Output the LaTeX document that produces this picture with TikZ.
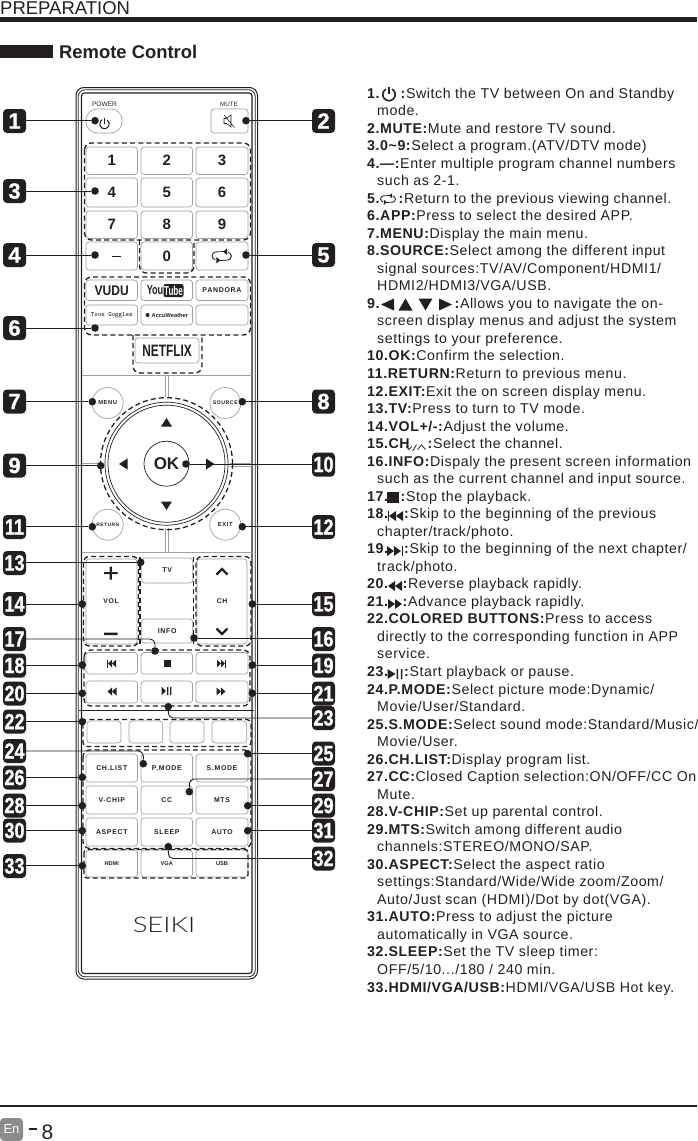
\documentclass[tikz,border=0pt]{standalone}
\usepackage{fontspec}
\setmainfont{Liberation Sans}
\newfontfamily\btnfont[LetterSpace=10]{Liberation Sans}
\newfontfamily\descfont[LetterSpace=4]{Liberation Sans}
\newfontfamily\bdgfont[FakeBold=1.1,UprightFont=* Bold]{Liberation Sans}
\newfontfamily\logofont{Lato Light}
\definecolor{ink}{HTML}{231F20}
\definecolor{btnline}{HTML}{A0A0A0}
\tikzset{
 btnbox/.style={draw=btnline,line width=.7pt,rounded corners=3pt,inner sep=0pt,text=ink},
 roundbtn/.style={draw=btnline,line width=.7pt,circle,inner sep=0pt,minimum size=31pt,text=ink},
 dashgrp/.style={draw=ink,line width=1.3pt,dash pattern=on 5pt off 3.2pt},
 lead/.style={draw=ink,line width=.9pt,rounded corners=5pt},
 dotn/.style={circle,fill=ink,inner sep=0pt,minimum size=7.6pt},
 badge/.style={fill=ink,rounded corners=4pt,inner sep=0pt,minimum height=24pt,minimum width=23pt,text=white,font=\bdgfont\fontsize{22}{22}\selectfont},
 tline/.style={anchor=base west,inner sep=0pt,text=ink,font=\descfont\fontsize{14.2}{16}\selectfont},
 divider/.style={draw=btnline,line width=1pt}
}
\newcommand\btn[6]{\node[btnbox,minimum width={#4-#2},minimum height={#5-#3}] (#1) at ({(#2+#4)/2},{(#3+#5)/2}) {#6};}
\newcommand\bdg[3]{\node[badge] (b#1) at (#2,#3) {#1};}
\newcommand\bdgw[3]{\node[badge] (b#1) at (#2,#3) {\scalebox{0.82}[1]{#1}};}
\newcommand\dt[3]{\node[dotn] (d#1) at (#2,#3) {};}
\newcommand\tl[3]{\node[tline] (t#1x#2) at (#2,{98+17.53*#1}) {#3};}
\newcommand\dg[1]{\bfseries\fontsize{15}{15}\selectfont #1}
\newcommand\fk[1]{\btnfont\bfseries\fontsize{6.9}{8}\selectfont #1}
\newcommand\triL[4]{\fill[ink] (#1,#2) -- ({#1+#3},{#2-#4/2}) -- ({#1+#3},{#2+#4/2}) -- cycle;}
\newcommand\triR[4]{\fill[ink] (#1,{#2-#4/2}) -- ({#1+#3},#2) -- (#1,{#2+#4/2}) -- cycle;}
\newcommand\triU[4]{\fill[ink] (#1,#2) -- ({#1+#3/2},{#2+#4}) -- ({#1-#3/2},{#2+#4}) -- cycle;}
\newcommand\triD[4]{\fill[ink] (#1,#2) -- ({#1+#3/2},{#2-#4}) -- ({#1-#3/2},{#2-#4}) -- cycle;}
\newcommand\powic[4]{\draw[ink,line width=#4] ({#1+#3*cos(60)},{#2-#3*sin(60)}) arc (-60:240:#3); \draw[ink,line width=#4] (#1,{#2-#3*1.25}) -- (#1,{#2-#3*.1});}
\newcommand\loopic[3]{\begin{scope}[shift={(#1,#2)},scale=#3]
 \draw[ink,line width=.9pt] (-1,-4.2) -- (-4,-4.2) .. controls (-8,-4.2) and (-10,-2) .. (-9.5,0) .. controls (-9.3,1.5) and (-8,3) .. (-6.5,3.8);
 \draw[ink,line width=.9pt] (1,4.2) -- (4,4.2) .. controls (8,4.2) and (10,2) .. (9.5,0) .. controls (9.3,-1.5) and (8,-3) .. (6.5,-3.8);
 \draw[ink,line width=.9pt] (-1,-4.2) -- (5,-4.2);
 \draw[ink,line width=.9pt] (1,4.2) -- (-5,4.2);
 \triL{1.5}{-4.2}{3.8}{6.5} \triL{-1.5}{4.2}{-3.8}{6.5}
 \end{scope}}
\begin{document}
\begin{tikzpicture}[x=1pt,y=-1pt]
\useasboundingbox (0,0) rectangle (697,1141);
% header
\node[anchor=base west,inner sep=0pt,text=ink,font=\fontsize{18.5}{20}\selectfont] (head) at (0,14) {PREPARATION};
\fill[ink] (0,17) rectangle (697,22);
\fill[ink] (0,45) rectangle (53,58);
\node[anchor=base west,inner sep=0pt,text=ink,font=\bfseries\fontsize{18.4}{20}\selectfont] (sub) at (59,58) {Remote Control};
% footer
\fill[ink] (0,1105) rectangle (697,1106.6);
\node[fill=black!45,rounded corners=4pt,inner sep=0pt,minimum width=23pt,minimum height=23pt,text=white,font=\fontsize{13}{13}\selectfont] (en) at (11.5,1129.5) {En};
\fill[ink] (29,1128.2) rectangle (37,1130);
\node[anchor=base west,inner sep=0pt,text=ink,font=\fontsize{21}{21}\selectfont] (pg) at (41.5,1139) {8};
% remote body
\draw[ink,line width=1pt,rounded corners=8pt] (76,87.5) rectangle (257.5,979);
\draw[ink,line width=.8pt,rounded corners=7pt] (78.2,89.7) rectangle (255.3,976.8);
\draw[ink,line width=1.1pt,rounded corners=3pt] (81.5,93) rectangle (252,973.5);
% dividers
\draw[divider] (82,375.5) -- (252,375.5);
\draw[divider] (165,376) -- (165,397) (168,376) -- (168,397);
\draw[divider] (165,528) -- (165,552) (168,528) -- (168,552);
\draw[divider] (82,552) -- (252,552);
\draw[divider] (82,463) -- (103,463);
\draw[divider] (230,463) -- (252,463) (230,466) -- (252,466);
\draw[ink,line width=1pt] (79,710.5) -- (254,710.5);
% top buttons
\node[btnbox,rounded corners=11pt,minimum width=36pt,minimum height=24pt] (power) at (104,121) {};
\node[anchor=base,inner sep=0pt,text=ink,font=\fontsize{6.6}{7}\selectfont] (powerl) at (104.5,106.5) {POWER};
\powic{104.5}{124}{4.8}{1pt}
\btn{mute}{211}{109}{248}{133}{}
\node[anchor=base,inner sep=0pt,text=ink,font=\fontsize{6.2}{7}\selectfont] (mutel) at (229,106.5) {MUTE};
\draw[ink,line width=.6pt] (224,118.5) -- (226.5,118.5) -- (231,115) -- (231,127) -- (226.5,123.5) -- (224,123.5) -- cycle (224,115) -- (234.5,127.5);
% digit pad
\btn{k1}{86}{147}{137.5}{174.5}{\dg{1}}
\btn{k2}{141}{147}{192.5}{174.5}{\dg{2}}
\btn{k3}{196}{147}{248}{174.5}{\dg{3}}
\btn{k4}{86}{178}{137.5}{207}{\dg{4}}
\btn{k5}{141}{178}{192.5}{207}{\dg{5}}
\btn{k6}{196}{178}{248}{207}{\dg{6}}
\btn{k7}{86}{211}{137.5}{238.5}{\dg{7}}
\btn{k8}{141}{211}{192.5}{238.5}{\dg{8}}
\btn{k9}{196}{211}{248}{238.5}{\dg{9}}
\btn{kd}{86}{242}{137.5}{270}{}
\fill[ink] (111.5,255.7) rectangle (120.7,256.6);
\btn{k0}{141}{242}{192.5}{270}{\dg{0}}
\btn{kl}{196}{242}{248}{270}{}
\loopic{221.7}{256}{1.02}
% apps
\btn{a1}{86}{280}{137.5}{300.5}{\bfseries\fontsize{14}{14}\selectfont\scalebox{.86}[1]{VUDU}}
\btn{a2}{141}{280}{192.5}{300.5}{}
\node[anchor=east,inner sep=0pt,text=ink,font=\bfseries\fontsize{13}{13}\selectfont] (yt1) at (163.5,290.5) {\scalebox{.7}[1]{You}};
\node[fill=ink,rounded corners=2pt,inner sep=.5pt,text=white,font=\bfseries\fontsize{13}{13}\selectfont,minimum height=13pt,minimum width=20pt] (yt2) at (173.5,290.5) {\scalebox{.62}[1]{Tube}};
\btn{a3}{196}{280}{248}{300.5}{\btnfont\bfseries\fontsize{7}{8}\selectfont PANDORA}
\btn{a4}{86}{305}{137.5}{325}{\ttfamily\bfseries\fontsize{6.6}{7}\selectfont Toon Goggles}
\btn{a5}{141}{305}{192.5}{325}{}
\fill[ink] (147.5,315) circle (2);
\node[anchor=west,inner sep=0pt,text=ink,font=\bfseries\fontsize{5.7}{7}\selectfont] (acc) at (151.5,315) {AccuWeather};
\btn{a6}{196}{305}{248}{325}{}
\btn{nf}{135}{338}{199}{363}{\bfseries\fontsize{16.5}{17}\selectfont\scalebox{.72}[1]{NETFLIX}}
% dpad
\node[draw=ink,line width=.7pt,circle,inner sep=0pt,minimum size=123pt] (ring2) at (166.5,463.7) {};
\node[draw=ink,line width=.7pt,circle,inner sep=0pt,minimum size=117pt] (ring1) at (166.5,463.7) {};
\node[draw=ink,line width=.7pt,circle,inner sep=0pt,minimum size=45pt,text=ink,font=\bfseries\fontsize{17}{17}\selectfont] (ok) at (166.5,463.7) {OK};
\triU{166.5}{418}{11}{8.5}
\triD{166.5}{510}{11}{8.5}
\triL{119}{464}{8.5}{11}
\triR{206}{464}{8.5}{11}
\node[roundbtn] (menu) at (107.7,403) {\btnfont\bfseries\fontsize{5.8}{6}\selectfont MENU};
\node[roundbtn] (source) at (225.3,403) {\btnfont\bfseries\fontsize{5.2}{6}\selectfont SOURCE};
\node[roundbtn] (return) at (107.7,524.7) {\btnfont\bfseries\fontsize{4.9}{6}\selectfont RETURN};
\node[roundbtn] (exit) at (225.3,524.7) {\btnfont\bfseries\fontsize{5.8}{6}\selectfont EXIT};
% vol ch
\btn{vol}{86}{559}{137}{644}{}
\btn{ch}{197}{559}{247}{644}{}
\btn{tv}{141.7}{558}{192.7}{583}{\btnfont\bfseries\fontsize{7}{8}\selectfont TV}
\btn{info}{141.7}{619}{192.7}{643}{\btnfont\bfseries\fontsize{7}{8}\selectfont INFO}
\node[inner sep=0pt,text=ink,font=\btnfont\bfseries\fontsize{6.8}{8}\selectfont] (voll) at (111,601) {VOL};
\node[inner sep=0pt,text=ink,font=\btnfont\bfseries\fontsize{6.8}{8}\selectfont] (chl) at (222,601) {CH};
\fill[ink] (104,572) rectangle (117.5,574.2) (109.7,566.5) rectangle (111.9,579.5) (104,632.5) rectangle (117.5,635);
\draw[ink,line width=2.2pt] (216.5,574.5) -- (222,569) -- (227.5,574.5);
\draw[ink,line width=2.2pt] (216.5,628.5) -- (222,634) -- (227.5,628.5);
% transport
\btn{p1}{86}{652.5}{137.5}{674}{}
\btn{p2}{141}{652.5}{192.5}{674}{}
\btn{p3}{196}{652.5}{248}{674}{}
\btn{p4}{86}{681}{137.5}{703}{}
\btn{p5}{141}{681}{192.5}{703}{}
\btn{p6}{196}{681}{248}{703}{}
\fill[ink] (107,659.5) rectangle (108,667.5); \triL{108}{663.5}{4}{7.5} \triL{112}{663.5}{4}{7.5}
\fill[ink] (163.5,659.5) rectangle (171,667);
\triR{217}{663.5}{4}{7.5} \triR{221}{663.5}{4}{7.5} \fill[ink] (225,659.5) rectangle (226,667.5);
\triL{107.5}{691.5}{4.5}{8} \triL{112}{691.5}{4.5}{8}
\triR{161.5}{691}{4.5}{8.5} \fill[ink] (167,687) rectangle (168.3,695) (170,687) rectangle (171.3,695);
\triR{216.5}{691.5}{4.5}{8} \triR{221}{691.5}{4.5}{8}
% colour keys
\btn{c1}{87}{721}{121}{743}{}
\btn{c2}{129}{721}{162.7}{743}{}
\btn{c3}{170}{721}{204}{743}{}
\btn{c4}{212}{721}{246.7}{743}{}
% function keys
\btn{f1}{86}{754}{137.5}{782}{\fk{CH.LIST}}
\btn{f2}{141}{754}{192.5}{782}{\fk{P.MODE}}
\btn{f3}{196}{754}{248}{782}{\fk{S.MODE}}
\btn{f4}{86}{786}{137.5}{814}{\fk{V-CHIP}}
\btn{f5}{141}{786}{192.5}{814}{\fk{CC}}
\btn{f6}{196}{786}{248}{814}{\fk{MTS}}
\btn{f7}{86}{818}{137.5}{846}{\fk{ASPECT}}
\btn{f8}{141}{818}{192.5}{846}{\fk{SLEEP}}
\btn{f9}{196}{818}{248}{846}{\fk{AUTO}}
\btn{h1}{86}{850}{137.5}{877}{\bfseries\fontsize{5.6}{7}\selectfont HDMI}
\btn{h2}{141}{850}{192.5}{877}{\bfseries\fontsize{5.6}{7}\selectfont VGA}
\btn{h3}{196}{850}{248}{877}{\bfseries\fontsize{5.6}{7}\selectfont USB}
\node[inner sep=0pt,text=ink,font=\logofont\fontsize{21.5}{22}\selectfont] (seiki) at (164,925) {\scalebox{1.28}[1]{SEIKI}};
% dashed groups
\draw[dashgrp,rounded corners=7pt] (84.5,143) rectangle (250.5,240);
\draw[dashgrp,rounded corners=7pt] (139.5,240) -- (139.5,273) -- (194,273) -- (194,240);
\draw[dashgrp,rounded corners=7pt] (84.5,277) rectangle (250.5,335);
\draw[dashgrp,rounded corners=7pt] (133,335) -- (133,373) -- (202,373) -- (202,335);
\draw[dashgrp] (166.5,463.7) circle (66);
\draw[dashgrp,rounded corners=6pt] (83.5,556.5) rectangle (138.5,646);
\draw[dashgrp] (140,556.5) -- (140,646) (193.7,556.5) -- (193.7,646);
\draw[dashgrp,rounded corners=6pt] (196,556.5) rectangle (251,646);
\draw[dashgrp,rounded corners=7pt] (84,650) rectangle (250,706);
\draw[dashgrp,rounded corners=4pt] (83,719.5) rectangle (251,746.5);
\draw[dashgrp,rounded corners=7pt] (83,750) rectangle (251,848.5);
\draw[dashgrp,rounded corners=3pt] (84,849.5) rectangle (248,878);
% badges
\bdg{1}{14.5}{121}\bdg{2}{323.5}{121}\bdg{3}{14.5}{191}\bdg{4}{14.5}{255}\bdg{5}{323.5}{255}
\bdg{6}{14.5}{328}\bdg{7}{14.5}{401.5}\bdg{8}{323.5}{401.5}\bdg{9}{14.5}{465.5}\bdgw{10}{323.5}{464.5}
\bdgw{11}{14.5}{527}\bdgw{12}{323.5}{527}\bdgw{13}{14.5}{563}\bdgw{14}{14.5}{604}\bdgw{15}{323.5}{604}
\bdgw{16}{323.5}{639}\bdgw{17}{14.5}{639}\bdgw{18}{14.5}{665.5}\bdgw{19}{323.5}{665.5}\bdgw{20}{14.5}{693.5}
\bdgw{21}{323.5}{693.5}\bdgw{22}{14.5}{721.5}\bdgw{23}{323.5}{718}\bdgw{24}{14.5}{751}\bdgw{25}{323.5}{753.5}
\bdgw{26}{14.5}{777.5}\bdgw{27}{323.5}{779}\bdgw{28}{14.5}{805.5}\bdgw{29}{323.5}{805.5}\bdgw{30}{14.5}{830.5}
\bdgw{31}{323.5}{830.5}\bdgw{32}{323.5}{858.5}\bdgw{33}{14.5}{866}
% dots
\dt{1}{95}{120.7}\dt{2}{246}{120.7}\dt{3}{95}{191}\dt{4}{95}{255}\dt{5}{246}{255}\dt{6}{95}{328}
\dt{7}{92.3}{401.7}\dt{8}{242.3}{401.7}\dt{9}{100.7}{465.7}\dt{10}{186}{464}\dt{11}{92.3}{526.7}\dt{12}{242.3}{526.7}
\dt{13}{140.7}{562.3}\dt{14}{82.3}{604}\dt{15}{252.3}{604}\dt{16}{194}{638}\dt{17}{155}{651}\dt{18}{82.3}{665}
\dt{19}{252.3}{665}\dt{20}{82.3}{693.3}\dt{21}{252.3}{693.3}\dt{22}{82.3}{721.7}\dt{23}{168.3}{706.7}
\dt{24}{143.3}{763.7}\dt{25}{247.7}{753.7}\dt{26}{82.3}{777.3}\dt{27}{189.3}{791.7}\dt{28}{82.3}{805.7}
\dt{29}{247.7}{805.7}\dt{30}{82.3}{830.7}\dt{31}{247.7}{830.7}\dt{32}{168.3}{846.7}\dt{33}{82.3}{865.7}
% leaders
\foreach \n in {1,3,4,6,7,9,11,13,14,18,20,22,26,28,30,33} \draw[lead] (b\n.east |- d\n) -- (d\n);
\foreach \n in {2,5,8,10,12,15,16,19,21,25,29,31} \draw[lead] (b\n.west |- d\n) -- (d\n);
\draw[lead] (b17.east) -| (d17);
\draw[lead] (b24.east) -| (d24);
\draw[lead] (b23.west) -| (d23);
\draw[lead] (b27.west) -| (d27);
\draw[lead] (b32.west) -| (d32);
% description text
\tl{0}{367}{\textbf{1.}} \powic{389}{94.5}{6.2}{1.6pt} \tl{0}{400.5}{\textbf{:}Switch the TV between On and Standby}
\tl{1}{377}{mode.}
\tl{2}{367}{\textbf{2.MUTE:}Mute and restore TV sound.}
\tl{3}{367}{\textbf{3.0\textasciitilde9:}Select a program.(ATV/DTV mode)}
\tl{4}{367}{\textbf{4.—:}Enter multiple program channel numbers}
\tl{5}{377}{such as 2-1.}
\tl{6}{367}{\textbf{5.}} \loopic{388}{199}{.78} \tl{6}{398.5}{\textbf{:}Return to the previous viewing channel.}
\tl{7}{367}{\textbf{6.APP:}Press to select the desired APP.}
\tl{8}{367}{\textbf{7.MENU:}Display the main menu.}
\tl{9}{367}{\textbf{8.SOURCE:}Select among the different input}
\tl{10}{377}{signal sources:TV/AV/Component/HDMI1/}
\tl{11}{377}{HDMI2/HDMI3/VGA/USB.}
\tl{12}{367}{\textbf{9.}} \triL{381}{304.5}{13}{12} \triU{405.5}{298.5}{14}{12} \triD{425.5}{310.5}{14}{12} \triR{439}{304.5}{13}{12}
\tl{12}{454.5}{\textbf{:}Allows you to navigate the on-}
\tl{13}{377}{screen display menus and adjust the system}
\tl{14}{377}{settings to your preference.}
\tl{15}{367}{\textbf{10.OK:}Confirm the selection.}
\tl{16}{367}{\textbf{11.RETURN:}Return to previous menu.}
\tl{17}{367}{\textbf{12.EXIT:}Exit the on screen display menu.}
\tl{18}{367}{\textbf{13.TV:}Press to turn to TV mode.}
\tl{19}{367}{\textbf{14.VOL+/-:}Adjust the volume.}
\tl{20}{367}{\textbf{15.CH}}
\draw[ink,line width=.8pt] (406.2,446.5) -- (409,449.5) -- (411.8,446.5) (412.8,451) -- (416.5,444.5) (417.5,449.5) -- (421.5,445) -- (425.5,449.5);
\tl{20}{427.5}{\textbf{:}Select the channel.}
\tl{21}{367}{\textbf{16.INFO:}Dispaly the present screen information}
\tl{22}{377}{such as the current channel and input source.}
\tl{23}{367}{\textbf{17.}} \fill[ink] (387,491.7) rectangle (399,503.3); \tl{23}{400.5}{\textbf{:}Stop the playback.}
\tl{24}{367}{\textbf{18.}} \fill[ink] (388,511) rectangle (389,521); \triL{389}{516}{7}{10} \triL{396}{516}{7}{10} \tl{24}{404}{\textbf{:}Skip to the beginning of the previous}
\tl{25}{377}{chapter/track/photo.}
\tl{26}{367}{\textbf{19.}} \triR{387}{551}{7}{10} \triR{394}{551}{7}{10} \fill[ink] (401.5,546) rectangle (402.7,556); \tl{26}{404}{\textbf{:}Skip to the beginning of the next chapter/}
\tl{27}{377}{track/photo.}
\tl{28}{367}{\textbf{20.}} \triL{388}{586}{7}{10} \triL{395}{586}{7}{10} \tl{28}{402.5}{\textbf{:}Reverse playback rapidly.}
\tl{29}{367}{\textbf{21.}} \triR{388}{604}{7}{10} \triR{395}{604}{7}{10} \tl{29}{402.5}{\textbf{:}Advance playback rapidly.}
\tl{30}{367}{\textbf{22.COLORED BUTTONS:}Press to access}
\tl{31}{377}{directly to the corresponding function in APP}
\tl{32}{377}{service.}
\tl{33}{367}{\textbf{23.}} \triR{387.5}{674}{8}{10} \fill[ink] (396.7,669) rectangle (398.2,679) (400.8,669) rectangle (402.3,679); \tl{33}{404}{\textbf{:}Start playback or pause.}
\tl{34}{367}{\textbf{24.P.MODE:}Select picture mode:Dynamic/}
\tl{35}{377}{Movie/User/Standard.}
\tl{36}{367}{\textbf{25.S.MODE:}Select sound mode:Standard/Music/}
\tl{37}{377}{Movie/User.}
\tl{38}{367}{\textbf{26.CH.LIST:}Display program list.}
\tl{39}{367}{\textbf{27.CC:}Closed Caption selection:ON/OFF/CC On}
\tl{40}{377}{Mute.}
\tl{41}{367}{\textbf{28.V-CHIP:}Set up parental control.}
\tl{42}{367}{\textbf{29.MTS:}Switch among different audio}
\tl{43}{377}{channels:STEREO/MONO/SAP.}
\tl{44}{367}{\textbf{30.ASPECT:}Select the aspect ratio}
\tl{45}{377}{settings:Standard/Wide/Wide zoom/Zoom/}
\tl{46}{377}{Auto/Just scan (HDMI)/Dot by dot(VGA).}
\tl{47}{367}{\textbf{31.AUTO:}Press to adjust the picture}
\tl{48}{377}{automatically in VGA source.}
\tl{49}{367}{\textbf{32.SLEEP:}Set the TV sleep timer:}
\tl{50}{377}{OFF/5/10.../180 / 240 min.}
\tl{51}{367}{\textbf{33.HDMI/VGA/USB:}HDMI/VGA/USB Hot key.}
\end{tikzpicture}
\end{document}
